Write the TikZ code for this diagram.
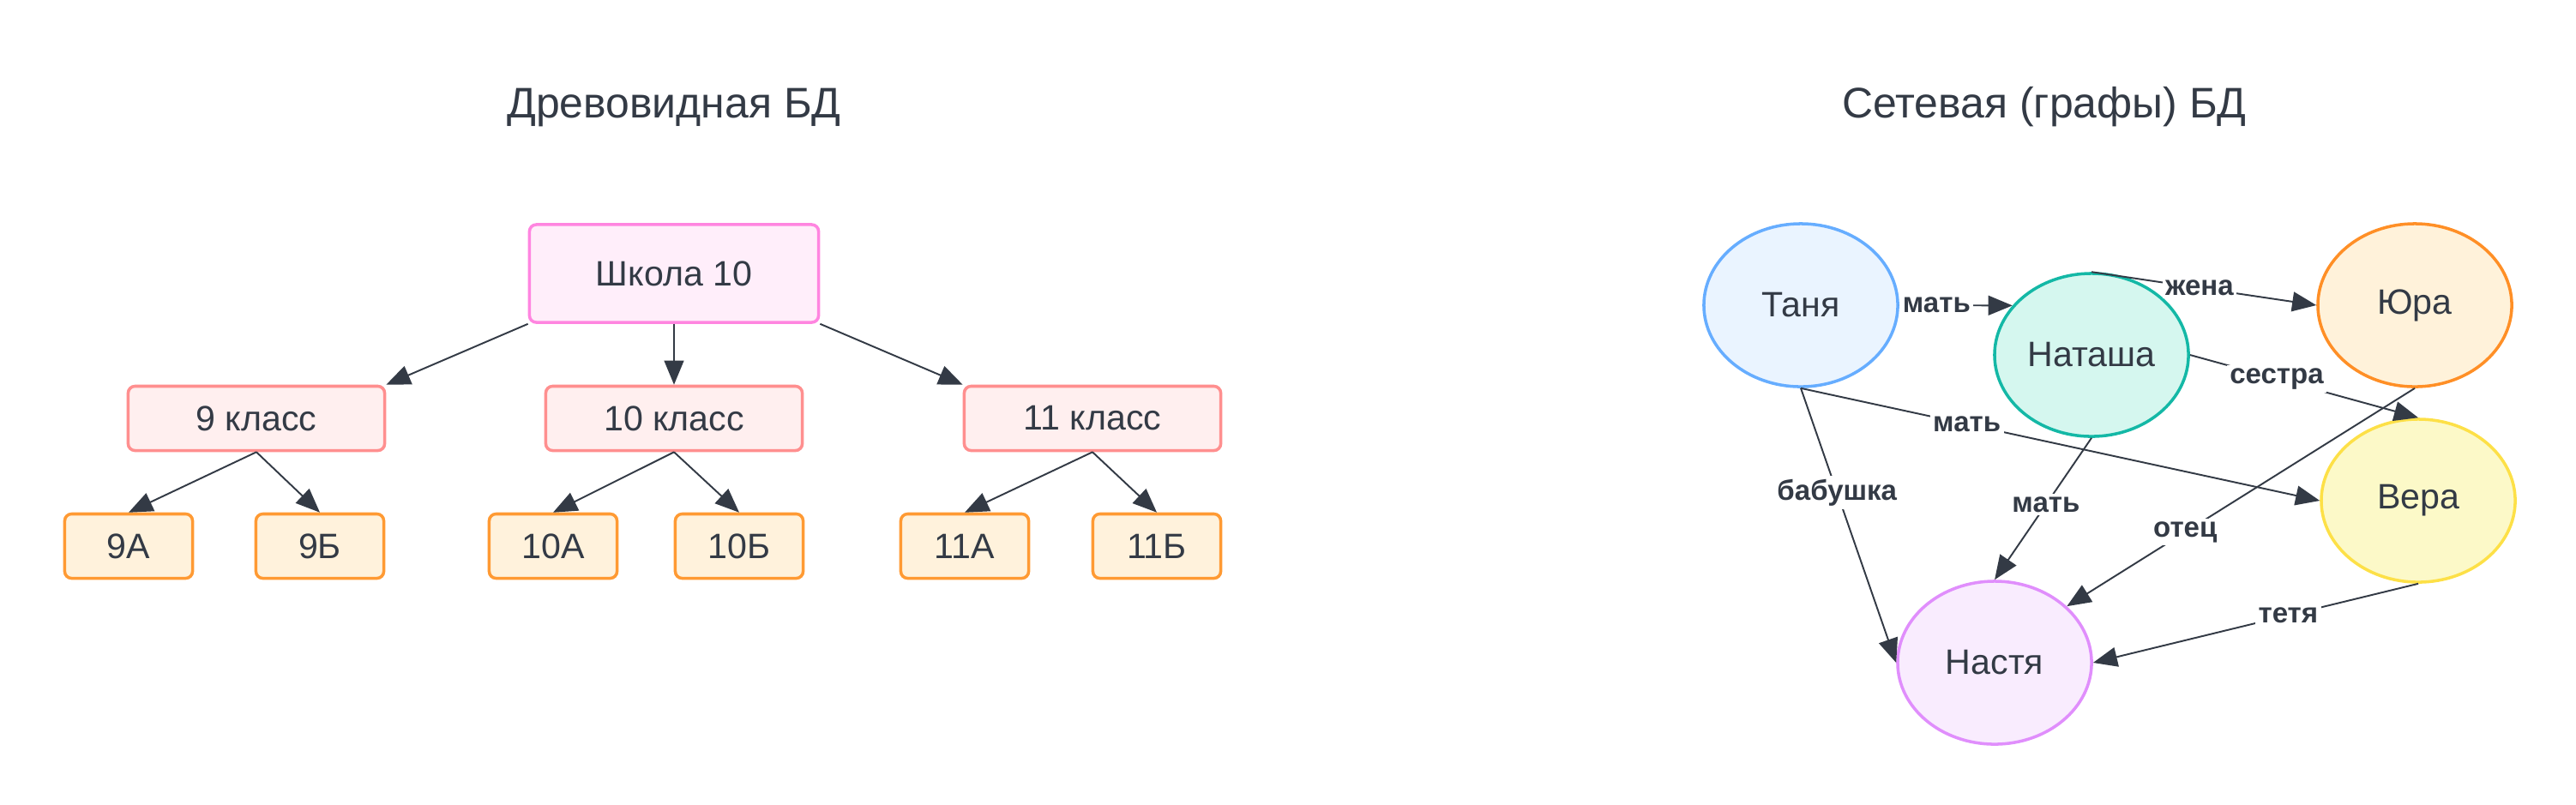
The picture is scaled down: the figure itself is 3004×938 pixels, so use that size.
\documentclass[tikz,border=0pt]{standalone}
\usepackage{fontspec}
\setmainfont{Liberation Sans}
\usetikzlibrary{arrows.meta,shapes.geometric}

\definecolor{ink}{HTML}{333A45}
\definecolor{schoolfill}{HTML}{FFEEFA}
\definecolor{schoolline}{HTML}{FF85E0}
\definecolor{classfill}{HTML}{FFEFEF}
\definecolor{classline}{HTML}{FF8F8F}
\definecolor{groupfill}{HTML}{FFF2DC}
\definecolor{groupline}{HTML}{FF9A33}
\definecolor{tanyafill}{HTML}{EAF4FF}
\definecolor{tanyaline}{HTML}{66ADFF}
\definecolor{natashafill}{HTML}{D5F7EF}
\definecolor{natashaline}{HTML}{14B8A6}
\definecolor{yurafill}{HTML}{FFF2DA}
\definecolor{yuraline}{HTML}{FF8F26}
\definecolor{verafill}{HTML}{FCF9C8}
\definecolor{veraline}{HTML}{FDE047}
\definecolor{nastyafill}{HTML}{F9ECFE}
\definecolor{nastyaline}{HTML}{E08EFC}

\begin{document}
\begin{tikzpicture}[x=0.01cm, y=-0.01cm,
    title/.style={text=ink, font=\fontsize{14.2}{17}\selectfont},
    box/.style={draw, rounded corners=0.08cm, line width=1pt, text=ink,
        font=\fontsize{11.7}{14}\selectfont, minimum height=0.75cm},
    classbox/.style={box, fill=classfill, draw=classline, minimum width=2.99cm},
    groupbox/.style={box, fill=groupfill, draw=groupline, minimum width=1.49cm},
    person/.style={ellipse, draw, line width=1pt, inner sep=0pt,
        minimum width=2.26cm, minimum height=1.9cm, text=ink,
        font=\fontsize{11.7}{14}\selectfont},
    edge/.style={draw=ink, line width=0.55pt, -{Triangle[length=8pt,width=6.5pt]}},
    lbl/.style={fill=white, inner sep=1pt, text=ink,
        font=\bfseries\fontsize{9.4}{11}\selectfont}]

    \useasboundingbox (0,0) rectangle (3004,938);

    % Tree
    \node[title] (treetitle) at (786,125) {Древовидная БД};
    \node[box, fill=schoolfill, draw=schoolline, minimum width=3.37cm,
        minimum height=1.14cm] (school) at (786,319) {Школа 10};

    \node[classbox] (k9) at (299,488) {9 класс};
    \node[classbox] (k10) at (786,488) {10 класс};
    \node[classbox] (k11) at (1274,488) {11 класс};

    \node[groupbox] (g9a) at (150,637) {9А};
    \node[groupbox] (g9b) at (373,637) {9Б};
    \node[groupbox] (g10a) at (645,637) {10А};
    \node[groupbox] (g10b) at (862,637) {10Б};
    \node[groupbox] (g11a) at (1125,637) {11А};
    \node[groupbox] (g11b) at (1349,637) {11Б};

    \draw[edge] (school.south west) -- (k9.north east);
    \draw[edge] (school.south) -- (k10.north);
    \draw[edge] (school.south east) -- (k11.north west);

    \draw[edge] (k9.south) -- (g9a.north);
    \draw[edge] (k9.south) -- (g9b.north);
    \draw[edge] (k10.south) -- (g10a.north);
    \draw[edge] (k10.south) -- (g10b.north);
    \draw[edge] (k11.south) -- (g11a.north);
    \draw[edge] (k11.south) -- (g11b.north);

    % Graph
    \node[title] (graphtitle) at (2384,125) {Сетевая (графы) БД};
    \node[person, fill=tanyafill, draw=tanyaline] (tanya) at (2100,356) {Таня};
    \node[person, fill=natashafill, draw=natashaline] (natasha) at (2439,414) {Наташа};
    \node[person, fill=yurafill, draw=yuraline] (yura) at (2816,356) {Юра};
    \node[person, fill=verafill, draw=veraline] (vera) at (2820,584) {Вера};
    \node[person, fill=nastyafill, draw=nastyaline] (nastya) at (2326,773) {Настя};

    \draw[edge] (tanya.east) -- node[lbl, pos=0.33] {мать} (natasha.148);
    \draw[edge] (natasha.north) -- node[lbl, pos=0.48] {жена} (yura.west);
    \draw[edge] (natasha.east) -- node[lbl, pos=0.38] {сестра} (vera.north);
    \draw[edge] (tanya.south) -- node[lbl, pos=0.32] {мать} (vera.west);
    \draw[edge] (tanya.south) -- node[lbl, pos=0.38] {бабушка} (nastya.west);
    \draw[edge] (natasha.south) -- node[lbl, pos=0.47] {мать} (nastya.north);
    \draw[edge] (yura.south) -- node[lbl, pos=0.66] {отец} (nastya.38);
    \draw[edge] (vera.south) -- node[lbl, pos=0.40] {тетя} (nastya.east);
\end{tikzpicture}
\end{document}
